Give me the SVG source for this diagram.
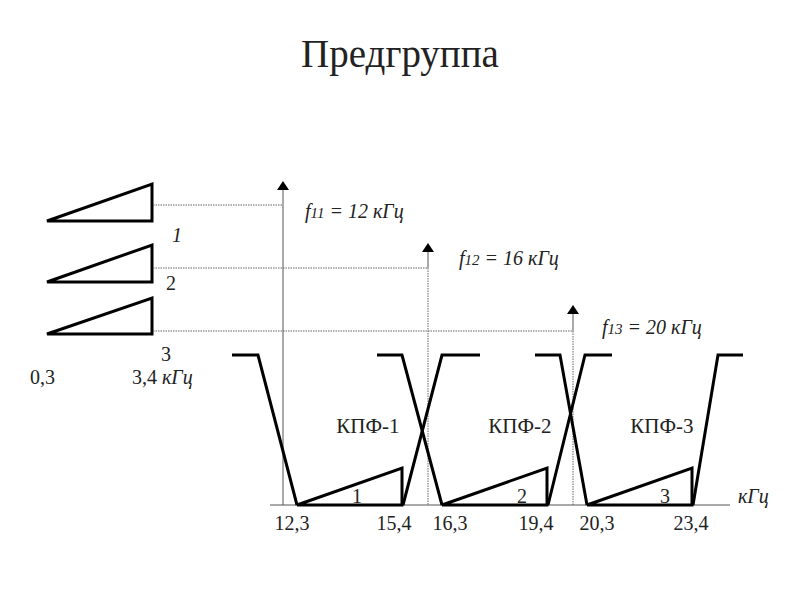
<svg xmlns="http://www.w3.org/2000/svg" width="800" height="600" viewBox="0 0 800 600">
<defs>
<style>
.t{font-size:39px}
.n{font-size:20px}
.k{font-size:21px}
.i{font-style:italic}
.thick{fill:none;stroke:#000;stroke-width:3;stroke-linejoin:miter}
.axis{fill:none;stroke:#555;stroke-width:1}
.dot{fill:none;stroke:#666;stroke-width:1;stroke-dasharray:1.5 1}
.ah{fill:#000}
</style>
</defs>
<rect width="800" height="600" fill="#fff"/>
<g font-family="'Liberation Serif', 'Times New Roman', serif" fill="#222">
<text class="t" x="400" y="67" text-anchor="middle">Предгруппа</text>

<g id="input-spectra">
<path class="thick" d="M47,221 L152,221 L152,184 Z"/>
<path class="thick" d="M47,282 L152,282 L152,245 Z"/>
<path class="thick" d="M47,334 L152,334 L152,298 Z"/>
<text class="n i" x="172" y="242">1</text>
<text class="n" x="166" y="290">2</text>
<text class="n" x="161" y="361">3</text>
<text class="n" x="30" y="384">0,3</text>
<text class="n" x="132" y="384">3,4 <tspan class="i">кГц</tspan></text>
</g>

<g id="connectors">
<path class="dot" d="M153,205 H283"/>
<path class="dot" d="M153,268 H428"/>
<path class="dot" d="M153,331 H573"/>
<path class="axis" d="M283,505 V188"/>
<polygon class="ah" points="277,190 283,181 289,190"/>
<path class="axis" d="M428,268 V250"/>
<polygon class="ah" points="422,252 428,243 434,252"/>
<path class="dot" d="M428,268 V505"/>
<path class="axis" d="M573,331 V312"/>
<polygon class="ah" points="567,314 573,305 579,314"/>
<path class="dot" d="M573,331 V505"/>
<path class="axis" d="M270,505 H730"/>
</g>

<g id="carrier-labels">
<text class="n i" x="305" y="218">f<tspan font-size="15">11</tspan> = 12 кГц</text>
<text class="n i" x="459" y="265">f<tspan font-size="15">12</tspan> = 16 кГц</text>
<text class="n i" x="602" y="334">f<tspan font-size="15">13</tspan> = 20 кГц</text>
</g>

<g id="kpf-1">
<path class="thick" d="M232,355 H258 L297,505"/>
<path class="thick" d="M403,505 L442,355 H480"/>
<path class="thick" d="M297,505 H402 V468 Z"/>
<text class="k" x="368" y="433" text-anchor="middle">КПФ-1</text>
<text class="n" x="357" y="503" text-anchor="middle">1</text>
</g>

<g id="kpf-2">
<path class="thick" d="M377,355 H402 L442,505"/>
<path class="thick" d="M548,505 L585,355 H612"/>
<path class="thick" d="M442,505 H547 V468 Z"/>
<text class="k" x="520" y="433" text-anchor="middle">КПФ-2</text>
<text class="n" x="522" y="503" text-anchor="middle">2</text>
</g>

<g id="kpf-3">
<path class="thick" d="M535,355 H560 L587,505"/>
<path class="thick" d="M693,505 L718,355 H743"/>
<path class="thick" d="M587,505 H692 V468 Z"/>
<text class="k" x="662" y="433" text-anchor="middle">КПФ-3</text>
<text class="n" x="665" y="503" text-anchor="middle">3</text>
</g>

<g id="axis-labels">
<text class="n" x="292" y="530" text-anchor="middle">12,3</text>
<text class="n" x="394" y="530" text-anchor="middle">15,4</text>
<text class="n" x="450" y="530" text-anchor="middle">16,3</text>
<text class="n" x="536" y="530" text-anchor="middle">19,4</text>
<text class="n" x="597" y="530" text-anchor="middle">20,3</text>
<text class="n" x="691" y="530" text-anchor="middle">23,4</text>
<text class="n i" x="738" y="503">кГц</text>
</g>
</g>
</svg>
